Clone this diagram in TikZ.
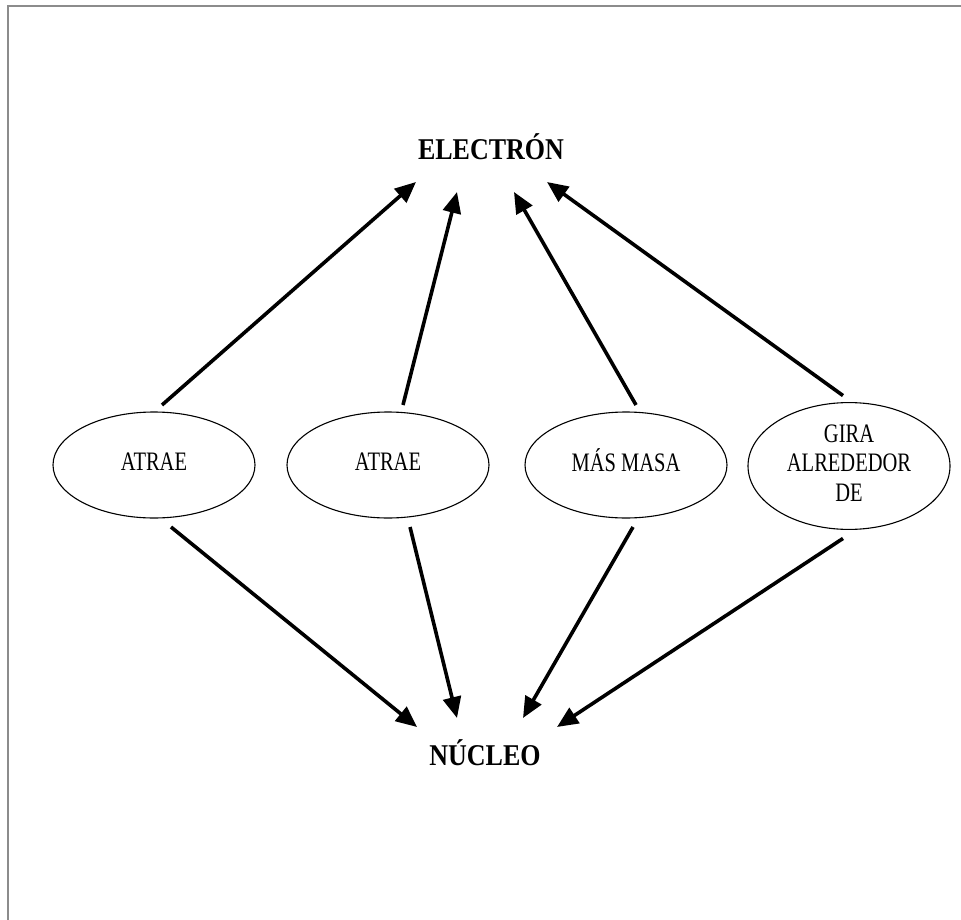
\documentclass[tikz,border=0pt]{standalone}
\usepackage{fontspec}
\usepackage{graphicx}
\setmainfont{Liberation Serif}
\usetikzlibrary{shapes.geometric,arrows.meta,calc}

% tall, narrow lettering used in the diagram
\newcommand{\tallbold}[1]{\scalebox{1}[1.16]{\fontsize{26}{30}\selectfont\bfseries #1}}
\newcommand{\tallplain}[1]{\scalebox{1}[1.3]{\fontsize{20.5}{23}\selectfont\begin{tabular}{@{}c@{}}#1\end{tabular}}}

\begin{document}
\begin{tikzpicture}[x=1pt,y=1pt,
  concept/.style={inner sep=0pt,outer sep=0pt},
  link/.style={ellipse,draw,line width=1.1pt,minimum width=202pt,minimum height=106pt,inner sep=0pt,outer sep=0pt},
  arr/.style={line width=3.6pt,-{Triangle[length=21pt,width=18pt]}},
  frameline/.style={draw=black!45,line width=2pt}
]
\useasboundingbox (0,0) rectangle (961,-920);
\fill[white] (0,0) rectangle (961,-920);
% page frame (top and left edges)
\draw[frameline] (961,-6) -- (8,-6) -- (8,-920);

% main concepts
\node[concept] (el) at (491,-147) {\tallbold{ELECTRÓN}};
\node[concept] (nu) at (485,-753) {\tallbold{NÚCLEO}};

% linking phrases
\node[link] (e1) at (154,-465) {\tallplain{ATRAE}};
\node[link] (e2) at (388,-465) {\tallplain{ATRAE}};
\node[link] (e3) at (626,-465) {\tallplain{MÁS MASA}};
\node[link] (e4) at (849,-466) {\tallplain{GIRA\\ALREDEDOR\\DE}};

% arrows up to ELECTRÓN
\draw[arr] ($(e1.north)+(8,7)$)  -- ($(el)+(-75,-35)$);
\draw[arr] ($(e2.north)+(15,7)$) -- ($(el)+(-34,-45)$);
\draw[arr] ($(e3.north)+(10,7)$) -- ($(el)+(23,-45)$);
\draw[arr] ($(e4.north)+(-6,7)$) -- ($(el)+(56,-35)$);

% arrows down to NÚCLEO
\draw[arr] ($(e1.south)+(17,-9)$) -- ($(nu)+(-68,26)$);
\draw[arr] ($(e2.south)+(22,-9)$) -- ($(nu)+(-28,35)$);
\draw[arr] ($(e3.south)+(7,-9)$)  -- ($(nu)+(38,35)$);
\draw[arr] ($(e4.south)+(-6,-9)$) -- ($(nu)+(72,26)$);
\end{tikzpicture}
\end{document}
